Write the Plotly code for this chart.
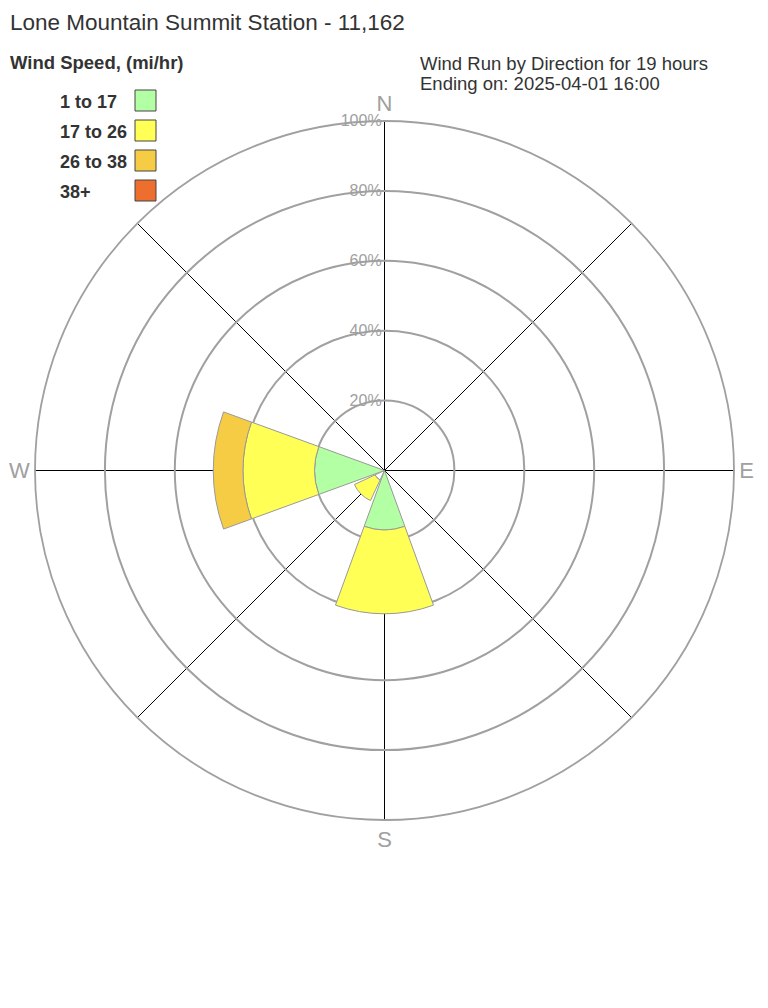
import plotly.graph_objects as go

# ---------------- data ----------------
directions = ["N", "NE", "E", "SE", "S", "SW", "W", "NW"]
dir_angles = [0, 45, 90, 135, 180, 225, 270, 315]
speed_bins = ["1 to 17", "17 to 26", "26 to 38", "38+"]
pct_under_1 = [0, 0, 0, 0, 0, 3.0, 0, 0]
pct_1_17 = [0, 0, 0, 0, 17.0, 0, 20.0, 0]
pct_17_26 = [0, 0, 0, 0, 24.0, 6.5, 20.5, 0]
pct_26_38 = [0, 0, 0, 0, 0, 0, 8.5, 0]
pct_38_up = [0, 0, 0, 0, 0, 0, 0, 0]
radial_ticks = [20, 40, 60, 80, 100]
radial_labels = ["20%", "40%", "60%", "80%", "100%"]
compass_labels = ["N", "", "E", "", "S", "", "W", ""]

title_text = "Lone Mountain Summit Station - 11,162"
legend_title = "Wind Speed, (mi/hr)"
info_lines = ["Wind Run by Direction for 19 hours", "Ending on: 2025-04-01 16:00"]

# ---------------- style ----------------
FONT = "Liberation Sans, Arial, sans-serif"
TXT = "#333333"
GRAY = "#a0a0a0"
colors = ["#b3ffa3", "#ffff55", "#f7cc45", "#ed6e2d"]
OFF = 8  # page body margin
W, H = 752, 992
ML, MT = 27, 113
PW = PH = 699
MR = W - ML - PW
MB = H - MT - PH


def px2x(px):
    return (px - OFF - ML) / PW


def py2y(py):
    return (H - MB - (py - OFF)) / PH


def nz(vals):
    return [v if v else None for v in vals]


fig = go.Figure()
fig.add_trace(go.Barpolar(
    r=nz(pct_under_1), theta=dir_angles, width=40, name="calm",
    marker=dict(color="white", line=dict(color="#999999", width=1)),
    showlegend=False, hoverinfo="skip"))
for name, vals, col in zip(speed_bins, [pct_1_17, pct_17_26, pct_26_38, pct_38_up], colors):
    fig.add_trace(go.Barpolar(
        r=nz(vals), theta=dir_angles, width=40, name=name,
        marker=dict(color=col, line=dict(color="#999999", width=1)),
        showlegend=False))

fig.update_layout(
    width=W, height=H,
    margin=dict(l=ML, r=MR, t=MT, b=MB, pad=0),
    paper_bgcolor="white",
    font=dict(family=FONT, color=TXT),
    title=dict(text=title_text, x=(10 - OFF) / W, xref="container", xanchor="left",
               y=1 - (22 - OFF) / H, yref="container", yanchor="middle",
               font=dict(size=22.5, color=TXT, family=FONT)),
    polar=dict(
        domain=dict(x=[0, 1], y=[0, 1]),
        bgcolor="white",
        barmode="stack",
        radialaxis=dict(range=[0, 100], tickmode="array", tickvals=radial_ticks,
                        ticktext=radial_labels, angle=90, tickangle=90,
                        side="counterclockwise", showline=False, ticks="",
                        gridcolor=GRAY, gridwidth=1.5,
                        tickfont=dict(size=16, color=GRAY, family=FONT),
                        layer="above traces"),
        angularaxis=dict(rotation=90, direction="clockwise", tickmode="array",
                         tickvals=dir_angles, ticktext=compass_labels,
                         gridcolor="black", gridwidth=1, showline=True,
                         linecolor=GRAY, linewidth=1.8, ticks="",
                         tickfont=dict(size=22, color=GRAY, family=FONT),
                         layer="above traces"),
    ),
)

# custom legend (swatch to the right of label)
annotations = [dict(text="<b>" + legend_title + "</b>", x=px2x(8), y=py2y(63),
                    xref="paper", yref="paper", xanchor="left", yanchor="middle",
                    showarrow=False, font=dict(size=18.5, color=TXT, family=FONT))]
shapes = []
for i, (name, col) in enumerate(zip(speed_bins, colors)):
    top = 90 + 30 * i
    annotations.append(dict(text="<b>" + name + "</b>", x=px2x(58), y=py2y(top + 12),
                            xref="paper", yref="paper", xanchor="left", yanchor="middle",
                            showarrow=False, font=dict(size=18, color=TXT, family=FONT)))
    shapes.append(dict(type="rect", xref="paper", yref="paper",
                       x0=px2x(135), x1=px2x(156), y0=py2y(top + 21), y1=py2y(top),
                       fillcolor=col, line=dict(color="#444444", width=1)))
for j, line in enumerate(info_lines):
    annotations.append(dict(text=line, x=px2x(418), y=py2y(64 + 20 * j),
                            xref="paper", yref="paper", xanchor="left", yanchor="middle",
                            showarrow=False, font=dict(size=18.5, color=TXT, family=FONT)))
fig.update_layout(annotations=annotations, shapes=shapes)

fig.write_html("out.html")
